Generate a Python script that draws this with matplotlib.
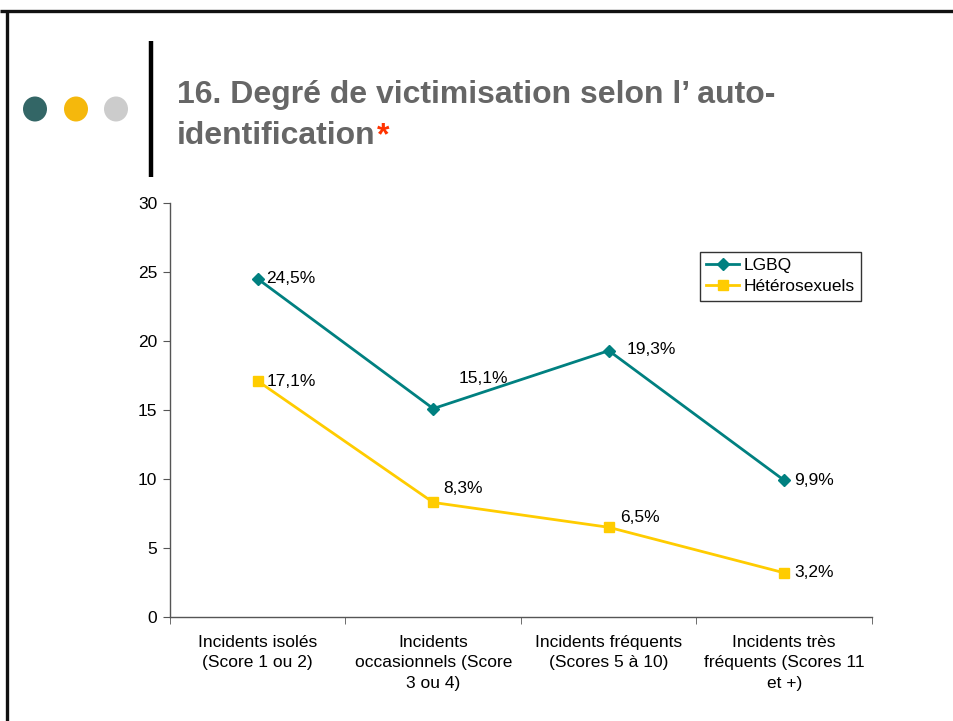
"""
Recreates slide 16: degré de victimisation selon l'auto-identification.
"""
import numpy as np
import matplotlib
matplotlib.use('Agg')
import matplotlib.pyplot as plt
from matplotlib.patches import Ellipse
from matplotlib.lines import Line2D

plt.rcParams['font.family'] = ['Liberation Sans', 'DejaVu Sans']

# data
categories = ["Incidents isolés\n(Score 1 ou 2)",
              "Incidents\noccasionnels (Score\n3 ou 4)",
              "Incidents fréquents\n(Scores 5 à 10)",
              "Incidents très\nfréquents (Scores 11\net +)"]
lgbq = [24.5, 15.1, 19.3, 9.9]
hetero = [17.1, 8.3, 6.5, 3.2]
series_names = ["LGBQ", "Hétérosexuels"]
yticks = [0, 5, 10, 15, 20, 25, 30]

# label offsets in pixels (dx, dy)
lgbq_off = [(8, 0), (25, 30), (18, 1), (10, 0)]
hetero_off = [(9, 0), (10, 14), (11, 10), (10, 0)]

teal = '#008080'
yellow = '#FFCC00'

fig = plt.figure(figsize=(9.54, 7.21), dpi=100)
W, H = 954, 721

# slide decorations (pixel coords -> figure coords)
deco = fig.add_axes([0, 0, 1, 1])
deco.set_xlim(0, W)
deco.set_ylim(H, 0)
deco.axis('off')
deco.plot([0, W], [10.5, 10.5], color='#111111', lw=2.4, solid_capstyle='butt')
deco.plot([7.5, 7.5], [10.5, H], color='#111111', lw=2.4, solid_capstyle='butt')
deco.plot([151, 151], [41, 177], color='black', lw=3.2, solid_capstyle='butt')
for cx, col in zip([35, 76, 116], ['#336666', '#F5B80C', '#CCCCCC']):
    deco.add_patch(Ellipse((cx, 109), 24, 25, color=col, lw=0))

deco.text(177, 103, "16. Degré de victimisation selon l\u2019 auto-", fontsize=23,
          fontweight='bold', color='#666666', va='baseline', ha='left')
t2 = deco.text(177, 144, "identification", fontsize=23, fontweight='bold',
               color='#666666', va='baseline', ha='left')
deco.annotate("*", xycoords=t2, xy=(1, 0), xytext=(1, 0), textcoords='offset points',
              fontsize=23, fontweight='bold', color='#FF3300', va='bottom', ha='left')

# chart
ax = fig.add_axes([170 / W, 1 - 617 / H, 702 / W, 414 / H])
x = np.arange(len(categories))
ax.plot(x, lgbq, color=teal, lw=2, marker='D', ms=6, mfc=teal, mec=teal, label=series_names[0])
ax.plot(x, hetero, color=yellow, lw=2, marker='s', ms=7, mfc=yellow, mec=yellow, label=series_names[1])

for xi, v, off in zip(x, lgbq, lgbq_off):
    ax.annotate(f"{v:.1f}%".replace('.', ','), (xi, v), xytext=(off[0] * 0.72, off[1] * 0.72),
                textcoords='offset points', fontsize=12.5, va='center', ha='left')
for xi, v, off in zip(x, hetero, hetero_off):
    ax.annotate(f"{v:.1f}%".replace('.', ','), (xi, v), xytext=(off[0] * 0.72, off[1] * 0.72),
                textcoords='offset points', fontsize=12.5, va='center', ha='left')

ax.set_xlim(-0.5, len(categories) - 0.5)
ax.set_ylim(0, 30)
ax.set_yticks(yticks)
ax.set_xticks(x)
ax.set_xticklabels(categories, fontsize=12.5, linespacing=1.45)
ax.set_xticks(np.arange(len(categories) + 1) - 0.5, minor=True)
ax.tick_params(axis='x', which='major', length=0, pad=13)
ax.tick_params(axis='x', which='minor', length=5, color='#555555', direction='out')
ax.tick_params(axis='y', length=5, color='#555555', labelsize=12.5, pad=4)
for s in ['top', 'right']:
    ax.spines[s].set_visible(False)
for s in ['left', 'bottom']:
    ax.spines[s].set_color('#555555')
    ax.spines[s].set_linewidth(1)

handles = [Line2D([], [], color=teal, lw=2, marker='D', ms=6),
           Line2D([], [], color=yellow, lw=2, marker='s', ms=7)]
leg = ax.legend(handles, series_names, loc='upper left', bbox_to_anchor=((700 - 170) / 702, (617 - 252) / 414),
                fontsize=12.5, frameon=True, fancybox=False, edgecolor='black', handlelength=1.9,
                handletextpad=0.25, borderpad=0.35, labelspacing=0.35, borderaxespad=0)
leg.get_frame().set_linewidth(1)

fig.savefig('out.png', dpi=100)
